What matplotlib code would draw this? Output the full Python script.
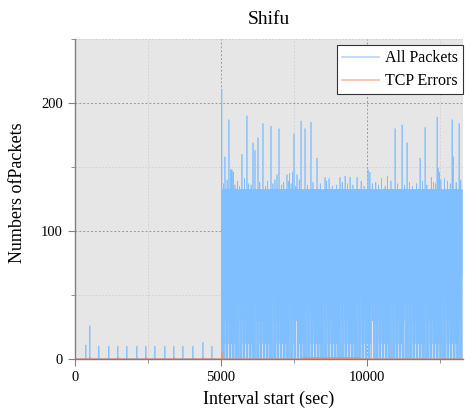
import numpy as np
import matplotlib.pyplot as plt
from matplotlib.ticker import MultipleLocator

plt.rcParams['font.family'] = ['Liberation Serif', 'DejaVu Serif']

## per-second packet counts for the Shifu capture
duration = 13290

# quiet phase: small periodic bursts
quiet_t = [5, 377, 514, 822, 1164, 1473, 1781, 2123, 2432, 2740, 3082, 3390,
           3699, 4041, 4384, 4692]
quiet_v = [6, 11, 26, 10, 10, 10, 10, 10, 10, 10, 10, 10, 10, 10, 13, 10]

# busy phase: traffic alternates between two levels with drops to zero
busy_start = 5030
busy_end = 13250
busy_cycle = [132, 65, 131, 66, 132, 65, 132, 66, 131, 0, 65, 132, 66, 131,
              65, 132, 65, 66, 132, 65, 131, 66, 132, 30, 65, 132, 66, 131,
              65, 132, 65, 132, 66, 132, 65, 131, 66, 132, 65, 132, 66,
              131, 65, 132, 65, 66, 132, 65, 131, 66, 132, 65, 12, 132, 66,
              131, 65, 132, 65, 66, 132, 65, 131, 66, 0, 132, 65, 132, 66,
              131, 65, 132, 66, 131, 65, 132, 45, 66, 132, 65, 131, 66, 132,
              65, 66, 132, 65, 65, 131, 66, 132, 65, 131, 66, 132, 65, 131]
busy_gap = (12565, 12585)

# bursts above the usual level
burst_t = [5030, 5137, 5274, 5340, 5377, 5420, 5720, 5891, 6097, 6165, 6268,
           6439, 6713, 6919, 6987, 7261, 7350, 7450, 7501, 7604, 7741, 7878,
           8083, 8289, 8563, 8700, 9076, 9250, 9419, 9659, 10035, 10100,
           10500, 10700, 10960, 11200, 11371, 11816, 11987, 12200, 12399,
           12433, 12480, 12912, 12947, 13152]
burst_v = [211, 158, 187, 148, 148, 146, 160, 190, 169, 163, 173, 184, 182,
           144, 180, 144, 145, 146, 176, 144, 186, 180, 185, 157, 142, 141,
           142, 143, 142, 142, 148, 146, 141, 143, 180, 183, 169, 157, 181,
           142, 189, 149, 146, 187, 158, 184]

# smaller bumps just over the upper level
bump_t = [5090, 5210, 5480, 5560, 5640, 5810, 5950, 6030, 6330, 6520, 6600,
          6780, 6850, 7080, 7150, 7320, 7400, 7560, 7680, 7960, 8150, 8400,
          8620, 8810, 8950, 9150, 9330, 9520, 9800, 9900, 10180, 10300,
          10390, 10620, 10820, 11050, 11290, 11450, 11560, 11700, 11900,
          12050, 12280, 12350, 12530, 12650, 12750, 12850, 13050, 13210]
bump_v = [137, 140, 136, 139, 135, 141, 137, 136, 138, 135, 139, 137, 140,
          136, 138, 139, 137, 135, 140, 136, 138, 137, 139, 135, 136, 138,
          137, 136, 139, 135, 137, 138, 136, 135, 139, 137, 136, 138, 135,
          137, 139, 136, 138, 137, 140, 141, 139, 137, 138, 140]

# TCP error counts
err_t = [5030] + list(range(7770, 9760, 45)) + [514, 1473, 2432, 3390, 4384]
err_v = [5] + [1] * len(range(7770, 9760, 45)) + [1, 1, 1, 1, 1]

t = np.arange(duration + 1)
packets = np.zeros(duration + 1)
packets[quiet_t] = quiet_v
packets[busy_start:busy_end] = np.resize(busy_cycle, busy_end - busy_start)
packets[busy_gap[0]:busy_gap[1]] = 50
packets[bump_t] = bump_v
packets[burst_t] = burst_v

errors = np.zeros(duration + 1)
errors[err_t] = err_v

fig = plt.figure(figsize=(4.65, 4.15), dpi=100)
ax = fig.add_axes([0.161, 0.135, 0.835, 0.771])
ax.set_facecolor('#e6e6e6')

ax.plot(t, packets, color='#80bfff', lw=0.5, label='All Packets')
ax.plot(t, errors, color='#f4916b', lw=0.8, label='TCP Errors')

ax.set_xlim(0, duration)
ax.set_ylim(0, 250)
ax.xaxis.set_major_locator(MultipleLocator(5000))
ax.xaxis.set_minor_locator(MultipleLocator(2500))
ax.yaxis.set_major_locator(MultipleLocator(100))
ax.yaxis.set_minor_locator(MultipleLocator(50))

ax.grid(which='major', color='#9a9a9a', linestyle=(0, (2, 2)), lw=0.7)
ax.grid(which='minor', color='#cfcfcf', linestyle=(0, (2, 2)), lw=0.6)
ax.set_axisbelow(True)

for side in ['top', 'right']:
    ax.spines[side].set_visible(False)
for side in ['left', 'bottom']:
    ax.spines[side].set_color('#808080')
    ax.spines[side].set_linewidth(1.0)
ax.tick_params(which='both', direction='out', color='#808080', labelsize=10.5)
ax.tick_params(which='major', length=5)
ax.tick_params(which='minor', length=3)

ax.set_title('Shifu', fontsize=14, pad=11)
ax.set_xlabel('Interval start (sec)', fontsize=13, labelpad=5)
ax.set_ylabel('Numbers ofPackets', fontsize=13)
ax.yaxis.set_label_coords(-0.125, 0.52)

leg = ax.legend(loc='upper right', bbox_to_anchor=(1.0, 0.98), borderaxespad=0,
                fancybox=False, framealpha=1, edgecolor='#333333',
                fontsize=11.5, handlelength=2.3, borderpad=0.3,
                labelspacing=0.45, handletextpad=0.4)
leg.get_frame().set_linewidth(0.8)
for line in leg.get_lines():
    line.set_linewidth(1.2)
    line.set_alpha(0.6)

fig.savefig('out.png', dpi=100)
